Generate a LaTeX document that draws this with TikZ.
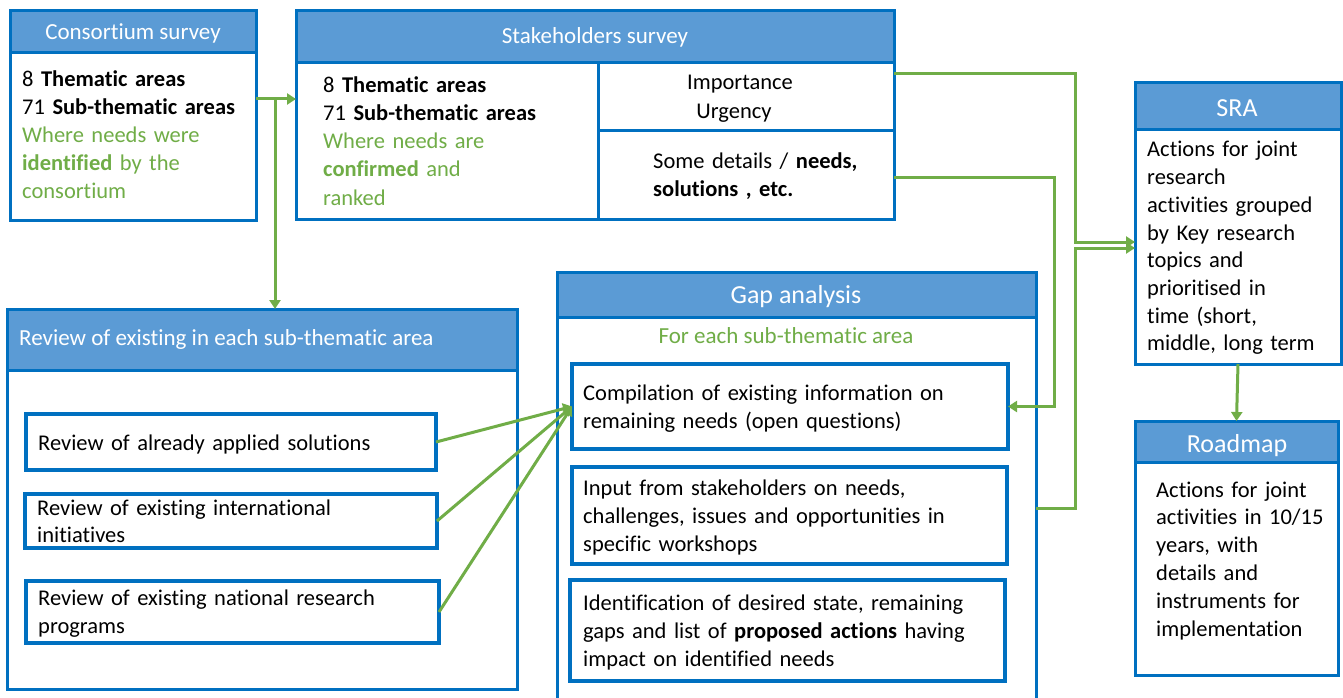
\documentclass[tikz,border=0pt]{standalone}
\usepackage{fontspec}
\setmainfont{Carlito}[Ligatures=NoCommon]
\usetikzlibrary{arrows.meta,fit}
\definecolor{bcol}{HTML}{0070C0}
\definecolor{hcol}{HTML}{5B9BD5}
\definecolor{gcol}{HTML}{70AD47}
\begin{document}
\begin{tikzpicture}[x=1pt,y=-1pt,
  frame/.style={draw=bcol, line width=3pt, fill=white, inner sep=0pt, outer sep=0pt},
  hdr/.style={frame, fill=hcol},
  inbox/.style={frame, line width=3.5pt},
  txt/.style={inner sep=0pt, anchor=base west, align=left, text width=460pt, font=\fontsize{22.5}{28}\selectfont},
  htxt/.style={inner sep=0pt, anchor=base, text=white, font=\fontsize{23}{28}\selectfont},
  bightxt/.style={htxt, font=\fontsize{26}{30}\selectfont},
  ctxt/.style={inner sep=0pt, anchor=base, font=\fontsize{22.5}{28}\selectfont},
  conn/.style={draw=gcol, line width=3pt, -{Triangle[length=9pt,width=11pt]}}]
\useasboundingbox (0,0) rectangle (1343,698);

% Consortium survey
\node[frame, fit={(10,53) (256,220)}] (consb) {};
\node[hdr, fit={(10,11) (256,53)}] (consh) {};
\node[htxt] (consht) at (133,40) {Consortium survey};
\node[txt] (const) at (22,87) {8 \textbf{Thematic areas}\\71 \textbf{Sub-thematic areas}\\\textcolor{gcol}{Where needs were}\\\textcolor{gcol}{\textbf{identified} by the}\\\textcolor{gcol}{consortium}};

% Stakeholders survey
\node[frame, fit={(296,63) (598,219)}] (stakel) {};
\node[frame, fit={(598,63) (894,131)}] (imp) {};
\node[frame, fit={(598,131) (894,219)}] (det) {};
\node[hdr, fit={(296,11) (894,63)}] (stakeh) {};
\node[htxt] (stakeht) at (595,44) {Stakeholders survey};
\node[txt] (stakelt) at (323,93) {8 \textbf{Thematic areas}\\71 \textbf{Sub-thematic areas}\\\textcolor{gcol}{Where needs are}\\\textcolor{gcol}{\textbf{confirmed} and}\\\textcolor{gcol}{ranked}};
\node[ctxt] (impt1) at (740,90) {Importance};
\node[ctxt] (impt2) at (734,118) {Urgency};
\node[txt] (dett) at (653,168) {Some details / \textbf{needs,}\\\textbf{solutions , etc.}};

% Review of existing
\node[frame, fit={(7,370) (517,689)}] (revb) {};
\node[hdr, fit={(7,309) (517,370)}] (revh) {};
\node[htxt, anchor=base west] (revht) at (19,345) {Review of existing in each sub-thematic area};
\node[inbox, fit={(26,414) (436,470)}] (r1) {};
\node[txt] (r1t) at (38,450) {Review of already applied solutions};
\node[inbox, fit={(25,494) (437,548)}] (r2) {};
\node[txt] (r2t) at (37,515) {Review of existing international\\[-1pt]initiatives};
\node[inbox, fit={(26,581) (439,643)}] (r3) {};
\node[txt] (r3t) at (38,605) {Review of existing national research\\programs};

% Gap analysis
\node[frame, fit={(557,317) (1036,704)}] (gapb) {};
\node[hdr, fit={(557,272) (1036,317)}] (gaph) {};
\node[bightxt] (gapht) at (796,303) {Gap analysis};
\node[ctxt, text=gcol, font=\fontsize{23}{28}\selectfont] (gapsub) at (786,343) {For each sub-thematic area};
\node[inbox, fit={(572,364) (1008,449)}] (c1) {};
\node[txt] (c1t) at (583,400) {Compilation of existing information on\\remaining needs (open questions)};
\node[inbox, fit={(572,467) (1007,564)}] (c2) {};
\node[txt] (c2t) at (583,495) {Input from stakeholders on needs,\\challenges, issues and opportunities in\\specific workshops};
\node[inbox, fit={(570,580) (1005,681)}] (c3) {};
\node[txt] (c3t) at (583,610) {Identification of desired state, remaining\\gaps and list of \textbf{proposed actions} having\\impact on identified needs};

% SRA
\node[frame, fit={(1135,130) (1341,364)}] (srab) {};
\node[hdr, fit={(1135,83) (1341,130)}] (srah) {};
\node[bightxt] (sraht) at (1237,117) {SRA};
\node[txt, font=\fontsize{22.5}{27.7}\selectfont] (srat) at (1147,157) {Actions for joint\\research\\activities grouped\\by Key research\\topics and\\prioritised in\\time (short,\\middle, long term};

% Roadmap
\node[frame, fit={(1135,462) (1338,675)}] (roadb) {};
\node[hdr, fit={(1135,421) (1338,462)}] (roadh) {};
\node[bightxt] (roadht) at (1237,452) {Roadmap};
\node[txt, font=\fontsize{22.5}{27.8}\selectfont] (roadt) at (1156,497) {Actions for joint\\activities in 10/15\\years, with\\details and\\instruments for\\implementation};

% connectors
\coordinate (j1) at (275,99);
\draw[conn] (consb.east |- j1) -- (stakel.west |- j1);
\draw[conn] (j1) -- (revh.north -| j1);
\draw[conn] (r1.east) -- (c1.west);
\draw[conn] (r2.east) -- (c1.west);
\draw[conn] (r3.east) -- (c1.west);
\coordinate (k1) at (1075,74);
\coordinate (k2) at (1075,242);
\coordinate (k3) at (1075,248);
\coordinate (k4) at (1075,508);
\coordinate (k5) at (1054,177);
\draw[conn] (imp.east |- k1) -- (k1) -- (k2) -- (srab.west |- k2);
\draw[conn] (gapb.east |- k4) -- (k4) -- (k3) -- (srab.west |- k3);
\draw[conn] (det.east |- k5) -- (k5) -- (k5 |- c1.east) -- (c1.east);
\draw[conn] (srab.south) -- (roadh.north);
\end{tikzpicture}
\end{document}
